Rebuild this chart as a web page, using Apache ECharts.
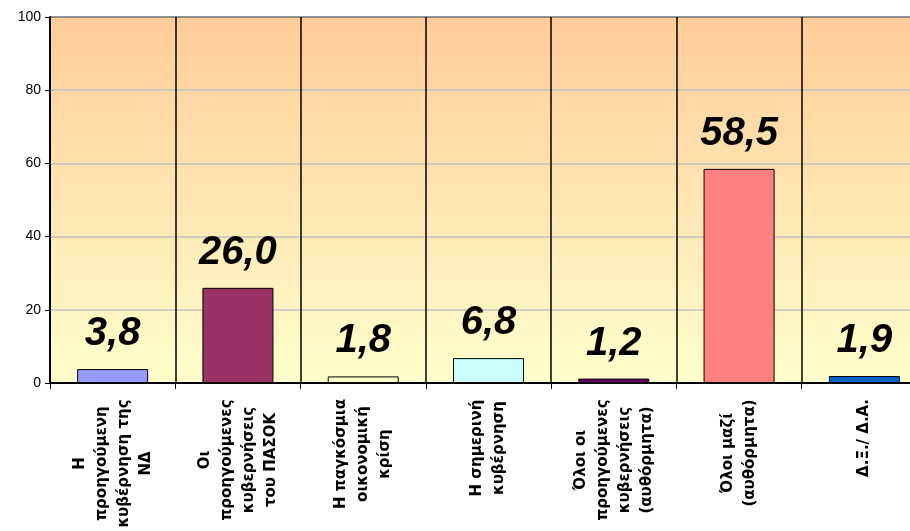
<!DOCTYPE html>
<html><head><meta charset="utf-8">
<script src="https://cdn.jsdelivr.net/npm/echarts@6/dist/echarts.min.js"></script>
<style>html,body{margin:0;padding:0;background:#fff}#c{width:910px;height:531px}</style>
</head><body><div id="c"></div>
<script>
const categories = [
  'Η\nπροηγούμενη\nκυβέρνηση της\nΝΔ',
  'Οι\nπροηγούμενες\nκυβερνήσεις\nτου ΠΑΣΟΚ',
  'Η παγκόσμια\nοικονομική\nκρίση',
  'Η σημερινή\nκυβέρνηση',
  'Όλοι οι\nπροηγούμενες\nκυβερνήσεις\n(αυθόρμητα)',
  'Όλοι μαζί\n(αυθόρμητα)',
  'Δ.Ξ./ Δ.Α.'
];
const values = [3.8, 26.0, 1.8, 6.8, 1.2, 58.5, 1.9];
const barColors = ['#9999FF', '#993366', '#FFFFCC', '#CCFFFF', '#660066', '#FF8080', '#0066CC'];
const yMin = 0, yMax = 100, yStep = 20;

const catFont = 'bold 15px "DejaVu Sans"';
const ctx = document.createElement('canvas').getContext('2d');
ctx.font = catFont;
const rich = {};
categories.forEach((c, i) => {
  const w = Math.max(...c.split('\n').map(l => ctx.measureText(l).width));
  rich['c' + i] = { width: Math.ceil(w) + 2, align: 'center', fontFamily: 'DejaVu Sans', fontWeight: 'bold', fontSize: 15, lineHeight: 22, color: '#000' };
});

const chart = echarts.init(document.getElementById('c'), null, { renderer: 'canvas' });
chart.setOption({
  animation: false,
  backgroundColor: '#fff',
  grid: {
    left: 50, right: -17, top: 17, bottom: 148,
    containLabel: false, outerBoundsMode: 'none',
    show: true,
    borderColor: '#808080', borderWidth: 1,
    backgroundColor: { type: 'linear', x: 0, y: 0, x2: 0, y2: 1,
      colorStops: [{ offset: 0, color: '#FFCC99' }, { offset: 1, color: '#FFFFCC' }] }
  },
  xAxis: {
    type: 'category',
    data: categories,
    axisLine: { lineStyle: { color: '#000', width: 2 } },
    axisTick: { show: true, length: 6, lineStyle: { color: '#000', width: 1 } },
    splitLine: { show: true, lineStyle: { color: '#000', width: 1.5 } },
    axisLabel: {
      rotate: 90, interval: 0, margin: 15,
      formatter: (val, idx) => val.split('\n').map(l => '{c' + idx + '|' + l + '}').join('\n'),
      rich: rich
    }
  },
  yAxis: {
    type: 'value', min: yMin, max: yMax, interval: yStep,
    axisLine: { show: true, lineStyle: { color: '#000', width: 2 } },
    axisTick: { show: true, length: 5, lineStyle: { color: '#000' } },
    splitLine: { show: true, lineStyle: { color: ['#C0C0C0', '#C0C0C0', '#C0C0C0', '#C0C0C0', '#C0C0C0', '#808080'], width: 1.5 } },
    axisLabel: { color: '#000', fontFamily: 'Liberation Sans', fontSize: 14, margin: 9 }
  },
  series: [{
    type: 'bar',
    barWidth: 71,
    data: values.map((v, i) => ({ value: v, itemStyle: { color: barColors[i] } })),
    itemStyle: { borderColor: '#000', borderWidth: 1 },
    label: {
      show: true, position: 'top', distance: 15,
      formatter: p => p.value.toFixed(1).replace('.', ','),
      fontFamily: 'Liberation Sans', fontWeight: 'bold', fontStyle: 'italic', fontSize: 40, color: '#000'
    }
  }]
});
</script>
</body></html>
